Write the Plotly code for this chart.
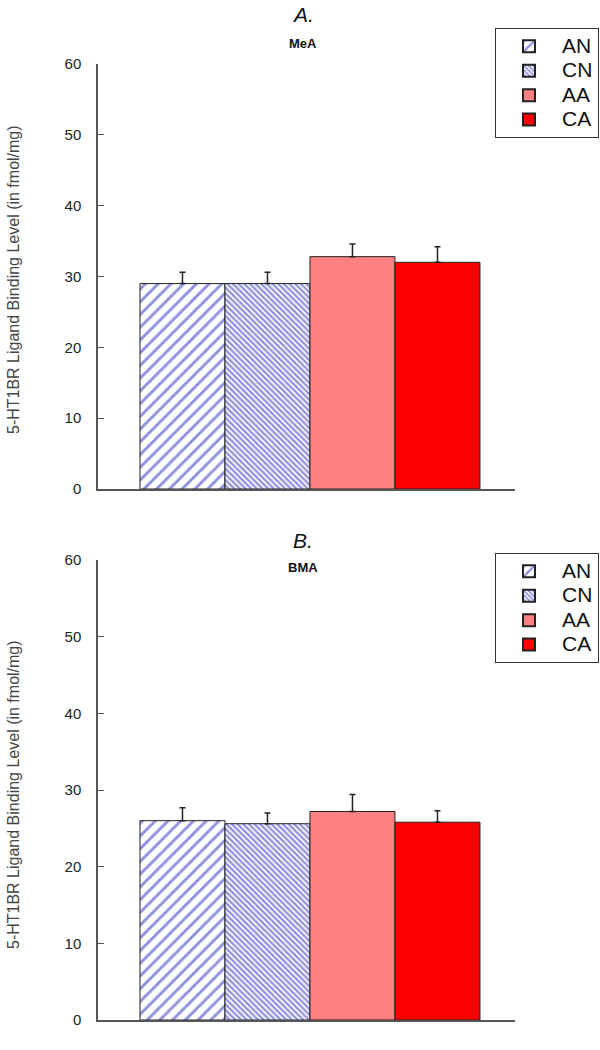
import plotly.graph_objects as go

groups = ["AN", "CN", "AA", "CA"]
mea_values = [29.0, 29.0, 32.8, 32.0]
mea_errors = [1.6, 1.6, 1.8, 2.2]
bma_values = [26.0, 25.6, 27.2, 25.8]
bma_errors = [1.7, 1.4, 2.2, 1.5]
y_ticks = [0, 10, 20, 30, 40, 50, 60]

colors = {"AN": "white", "CN": "white", "AA": "#ff8080", "CA": "#ff0000"}
patterns = {
    "AN": dict(shape="/", fgcolor="#2020c0", bgcolor="white", size=9, solidity=0.32),
    "CN": dict(shape="\\", fgcolor="#2020c0", bgcolor="white", size=4, solidity=0.55),
    "AA": dict(shape=""),
    "CA": dict(shape=""),
}

W, H = 600, 1050
PL, PR = 98, 515          # plot area left/right
A_TOP, A_BOT = 64, 489    # panel A y=60 / y=0
B_TOP, B_BOT = 560, 1020  # panel B y=60 / y=0
top_px, bot_px = A_TOP, H - B_BOT
ph = H - top_px - bot_px
pw = PR - PL

def px_y(page_y):
    return 1 - (page_y - top_px) / ph

def px_x(page_x):
    return (page_x - PL) / pw

a_dom = [1 - (A_BOT - top_px) / ph, 1.0]
b_dom = [0.0, 1 - (B_TOP - top_px) / ph]

fig = go.Figure()
panels = [("x", "y", "legend", mea_values, mea_errors), ("x2", "y2", "legend2", bma_values, bma_errors)]
for xa, ya, lg, vals, errs in panels:
    for i, g in enumerate(groups):
        fig.add_trace(go.Bar(
            x=[i], y=[vals[i]], name="<span style='font-size:21px'>%s</span>" % g, width=1.0,
            marker=dict(color=colors[g], pattern=patterns[g], line=dict(color="#222", width=1)),
            error_y=dict(type="data", symmetric=False, array=[errs[i]], arrayminus=[0],
                         color="#222", thickness=1.5, width=3),
            xaxis=xa, yaxis=ya, legend=lg, showlegend=True,
        ))

axis_common = dict(
    range=[0, 60], tickvals=y_ticks, ticks="inside", ticklen=6, tickcolor="#555",
    showline=True, linecolor="#555", linewidth=1.5, showgrid=False, zeroline=False,
    tickfont=dict(family="Arial, Liberation Sans", size=15, color="#222"),
    ticklabelstandoff=12,
)
xaxis_common = dict(
    range=[-0.994, 3.912], showticklabels=False, ticks="", showline=True,
    linecolor="#555", linewidth=1.5, showgrid=False, zeroline=False,
)

legend_common = dict(
    bordercolor="#333", borderwidth=1, bgcolor="white",
    font=dict(family="Arial, Liberation Sans", size=16.5, color="#111"),
    xanchor="left", yanchor="top", itemsizing="constant", tracegroupgap=0,
    itemwidth=56,
)

fig.update_layout(
    width=W, height=H, plot_bgcolor="white", paper_bgcolor="white",
    margin=dict(l=PL, r=W - PR, t=top_px, b=bot_px, autoexpand=False),
    barmode="overlay",
    xaxis=dict(domain=[0, 1], anchor="y", **xaxis_common),
    yaxis=dict(domain=a_dom, anchor="x", **axis_common),
    xaxis2=dict(domain=[0, 1], anchor="y2", **xaxis_common),
    yaxis2=dict(domain=b_dom, anchor="x2", **axis_common),
    legend=dict(x=px_x(495), y=px_y(28), **legend_common),
    legend2=dict(x=px_x(495), y=px_y(553), **legend_common),
)

ylabel = "5-HT1BR Ligand Binding Level (in fmol/mg)"
for title, sub, t_y, s_y, l_y in [("A.", "MeA", 14, 43, 280), ("B.", "BMA", 540, 567, 795)]:
    fig.add_annotation(text="<i>%s</i>" % title, xref="paper", yref="paper", x=px_x(303), y=px_y(t_y),
                       showarrow=False, xanchor="center", yanchor="middle",
                       font=dict(family="Arial, Liberation Sans", size=21, color="#111"))
    fig.add_annotation(text="<b>%s</b>" % sub, xref="paper", yref="paper", x=px_x(303), y=px_y(s_y),
                       showarrow=False, xanchor="center", yanchor="middle",
                       font=dict(family="Arial, Liberation Sans", size=13, color="#111"))
    fig.add_annotation(text=ylabel, xref="paper", yref="paper", x=px_x(13), y=px_y(l_y),
                       showarrow=False, xanchor="center", yanchor="middle", textangle=-90,
                       font=dict(family="Arial, Liberation Sans", size=16, color="#444"))

fig.write_html("out.html", config={"displayModeBar": False},
               post_script="document.body.style.margin='0';")
